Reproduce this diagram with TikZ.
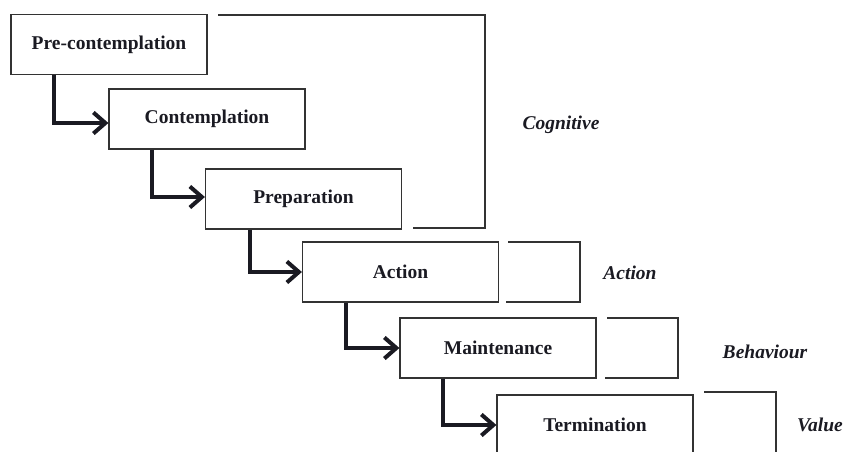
\documentclass[tikz,border=0pt]{standalone}
\usepackage{fontspec}
\setmainfont{Liberation Serif}
\usetikzlibrary{arrows.meta}
\definecolor{ink}{HTML}{1A1A22}
\definecolor{rule}{HTML}{333333}
\begin{document}
\begin{tikzpicture}[x=1pt,y=-1pt,
  stagebox/.style={draw=rule,line width=1.2pt,minimum width=196pt,minimum height=60pt,
    inner sep=0pt,font=\fontsize{19.5}{22}\selectfont\bfseries,text=ink},
  flow/.style={draw=ink,line width=4pt,-{Straight Barb[length=12pt,width=21pt,line width=4pt]}},
  bracket/.style={draw=rule,line width=1.2pt},
  tag/.style={font=\fontsize{19.5}{22}\selectfont\bfseries\itshape,text=ink}]
\useasboundingbox (0,0) rectangle (847,452);
\clip (0,0) rectangle (847,452);

% stages of change
\node[stagebox] (b1) at (109,44.5) {Pre-contemplation};
\node[stagebox] (b2) at (207,119) {Contemplation};
\node[stagebox] (b3) at (303.5,199) {Preparation};
\node[stagebox] (b4) at (400.5,272) {Action};
\node[stagebox] (b5) at (498,348) {Maintenance};
\node[stagebox] (b6) at (595,425) {Termination};

% elbow arrows between consecutive stages
\draw[flow] ([xshift=44pt]b1.south west) |- ([yshift=-4pt]b2.west);
\draw[flow] ([xshift=44pt]b2.south west) |- ([yshift=2pt]b3.west);
\draw[flow] ([xshift=45pt]b3.south west) |- (b4.west);
\draw[flow] ([xshift=44pt]b4.south west) |- (b5.west);
\draw[flow] ([xshift=44pt]b5.south west) |- (b6.west);

% grouping brackets
\draw[bracket] (218,15) -- (485,15) -- (485,228) -- (413,228);
\draw[bracket] (508,242) -- (580,242) -- (580,302) -- (506,302);
\draw[bracket] (607,318) -- (678,318) -- (678,378) -- (605,378);
\draw[bracket] (704,392) -- (776,392) -- (776,452);

% dimension labels
\node[tag] (lc) at (561,125) {Cognitive};
\node[tag] (la) at (630,273) {Action};
\node[tag] (lb) at (765,352) {Behaviour};
\node[tag] (lv) at (820,425) {Value};
\end{tikzpicture}
\end{document}
